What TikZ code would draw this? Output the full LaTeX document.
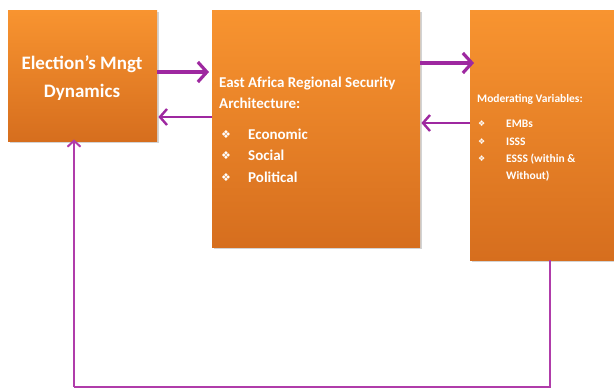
\documentclass[tikz,border=0pt]{standalone}
\usepackage{fontspec}
\setmainfont{Carlito}
\newfontfamily\symfont{DejaVu Sans}
\usetikzlibrary{arrows.meta,shadows}
\begin{document}
\begin{tikzpicture}[x=1pt,y=-1pt,
  obox/.style={draw=none, top color=oTop, bottom color=oBot, inner sep=0pt,
    drop shadow={opacity=0.35, shadow xshift=1.5pt, shadow yshift=-1.5pt}},
  txt/.style={text=white, font=\bfseries, inner sep=0pt},
  thickarr/.style={draw=arrP, line width=3.4pt, -{Straight Barb[length=9pt,width=20pt,line width=3.2pt]}},
  thinarr/.style={draw=arrP, line width=2.6pt, -{Straight Barb[length=7pt,width=16pt,line width=2.4pt]}},
  loopline/.style={draw=loopP, line width=2pt},
]
\definecolor{oTop}{RGB}{248,148,48}
\definecolor{oBot}{RGB}{214,110,30}
\definecolor{arrP}{RGB}{158,40,160}
\definecolor{loopP}{RGB}{176,60,170}
\useasboundingbox (0,0) rectangle (614,389);
\clip (0,0) rectangle (614,389);
% boxes
\node[obox, anchor=north west, minimum width=149pt, minimum height=131pt] (box1) at (8,10) {};
\node[obox, anchor=north west, minimum width=208pt, minimum height=237pt] (box2) at (212,10) {};
\node[obox, anchor=north west, minimum width=170pt, minimum height=250pt] (box3) at (470,10) {};
% box1 text
\node[txt, align=center, font=\bfseries\fontsize{19}{28}\selectfont] (t1) at (82,78) {Election’s Mngt\\Dynamics};
% box2 text
\begin{scope}[every node/.style={txt, anchor=base west, font=\bfseries\fontsize{15}{17}\selectfont}]
\node (t2a) at (219,87) {East Africa Regional Security};
\node (t2b) at (219,108) {Architecture:};
\node (b2a) at (221,138) {\symfont\fontsize{11}{12}\selectfont ❖};
\node (b2b) at (221,159) {\symfont\fontsize{11}{12}\selectfont ❖};
\node (b2c) at (221,181) {\symfont\fontsize{11}{12}\selectfont ❖};
\node (t2c) at (248,139) {Economic};
\node (t2d) at (248,160) {Social};
\node (t2e) at (248,182) {Political};
\end{scope}
% box3 text
\begin{scope}[every node/.style={txt, anchor=base west, font=\bfseries\fontsize{11.5}{13}\selectfont}]
\node (t3a) at (477,102) {Moderating Variables:};
\node (b3a) at (478,126.5) {\symfont\fontsize{8}{9}\selectfont ❖};
\node (b3b) at (478,144.5) {\symfont\fontsize{8}{9}\selectfont ❖};
\node (b3c) at (478,161.5) {\symfont\fontsize{8}{9}\selectfont ❖};
\node (t3b) at (506,127) {EMBs};
\node (t3c) at (506,145) {ISSS};
\node (t3d) at (506,162) {ESSS (within \&};
\node (t3e) at (506,179) {Without)};
\end{scope}
% arrows
\draw[thickarr] (box1.east |- 0,72) -- ([xshift=-3pt]box2.west |- 0,72);
\draw[thinarr] (box2.west |- 0,117) -- ([xshift=1pt]box1.east |- 0,117);
\draw[thickarr] (box2.east |- 0,63) -- ([xshift=4pt]box3.west |- 0,63);
\draw[thinarr] (box3.west |- 0,123) -- ([xshift=1pt]box2.east |- 0,123);
% feedback loop
\coordinate (c1) at (550,387);
\coordinate (c2) at (74,387);
\draw[loopline] (box3.south -| c1) -- (c1) -- (c2);
\draw[loopline, -{Straight Barb[length=6pt,width=13pt,line width=2pt]}] (c2) -- ([yshift=2pt]box1.south -| c2);
\end{tikzpicture}
\end{document}
